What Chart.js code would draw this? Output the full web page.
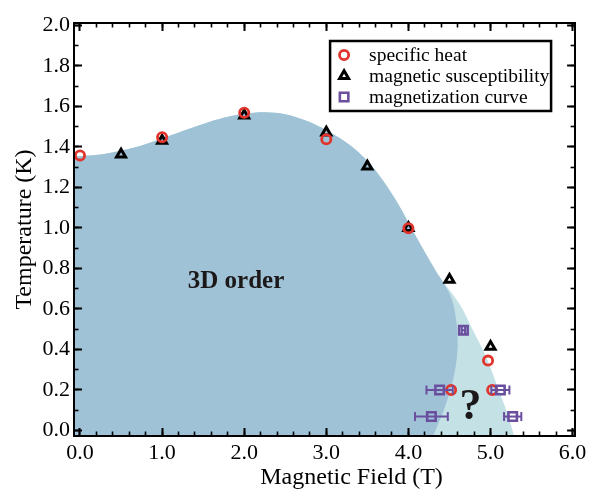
<!DOCTYPE html>
<html><head><meta charset="utf-8">
<script src="https://cdn.jsdelivr.net/npm/chart.js@4.4.1/dist/chart.umd.min.js"></script>
<style>html,body{margin:0;padding:0;background:#fff;overflow:hidden}canvas{display:block}</style>
</head><body>
<canvas id="c" width="601" height="491"></canvas>
<script>
// ---------- data ----------
const X_RANGE = [-0.073, 6.03];
const Y_RANGE = [-0.027, 2.011];
const xMajorStep = 1.0, xMinorStep = 0.2, yMajorStep = 0.2, yMinorStep = 0.1;

const seriesLabels = ['specific heat', 'magnetic susceptibility', 'magnetization curve'];

const heatField = [0.0, 1.0, 2.0, 3.0, 4.0, 4.52, 4.97, 5.02];
const heatTemp  = [1.357, 1.447, 1.568, 1.437, 0.998, 0.20, 0.345, 0.20];

const suscField = [0.5, 1.0, 2.0, 3.0, 3.5, 4.0, 4.5, 5.0];
const suscTemp  = [1.362, 1.430, 1.555, 1.471, 1.303, 1.00, 0.744, 0.414];

const magField = [4.67, 4.38, 5.12, 4.28, 5.27];
const magTemp  = [0.495, 0.20, 0.20, 0.069, 0.069];
const magErr   = [0.02, 0.16, 0.11, 0.20, 0.105];

// phase boundary (upper edge of the ordered phase)
const topEdgeField = [-0.1, 0.0, 0.25, 0.5, 0.75, 1.0, 1.25, 1.5, 1.75, 2.0, 2.25, 2.5, 2.75, 2.9, 3.05, 3.2, 3.35, 3.5, 3.65, 3.85, 4.1, 4.33];
const topEdgeTemp  = [1.352, 1.354, 1.362, 1.382, 1.407, 1.441, 1.478, 1.513, 1.543, 1.563, 1.571, 1.561, 1.53, 1.503, 1.47, 1.434, 1.388, 1.33, 1.256, 1.135, 0.952, 0.79];
// low-field side of the dark region near the critical field
const orderEdgeField = [4.44, 4.53, 4.58, 4.60, 4.59, 4.56, 4.51, 4.43, 4.33, 4.24, 4.8];
const orderEdgeTemp  = [0.72, 0.646, 0.55, 0.45, 0.36, 0.28, 0.20, 0.10, 0.0, -0.1, -0.1];
// outer edge of the light region
const outerEdgeField = [4.47, 4.63, 4.78, 4.95, 5.10, 5.20, 5.29, 5.34];
const outerEdgeTemp  = [0.71, 0.62, 0.50, 0.36, 0.20, 0.09, -0.03, -0.1];

const regionLabels = ['3D order', '?'];
const regionLabelField = [1.90, 4.757];
const regionLabelTemp  = [0.737, 0.111];

// ---------- styles ----------
const SERIF = '"Liberation Serif", "Times New Roman", serif';
const RED = '#e0342c', BLACK = '#000000', PURPLE = '#6a4f9f';
const DARK = 'rgb(159,194,214)', LIGHT = 'rgb(196,225,230)';

const pts = (xs, ys) => xs.map((x, i) => ({x, y: ys[i]}));

const markerSets = [
  {type: 'scatter', label: seriesLabels[2], inLegend: 2, data: pts(magField, magTemp), pointStyle: 'rect', pointRadius: 6, borderWidth: 2.6, borderColor: PURPLE, backgroundColor: 'rgba(0,0,0,0)', order: 0, clip: false},
  {type: 'scatter', label: seriesLabels[0], inLegend: 0, data: pts(heatField, heatTemp), pointStyle: 'circle', pointRadius: 4.6, borderWidth: 2.8, borderColor: RED, backgroundColor: 'rgba(0,0,0,0)', order: 1, clip: false},
  {type: 'scatter', label: seriesLabels[1], inLegend: 1, data: pts(suscField, suscTemp), pointStyle: 'triangle', pointRadius: 5.2, borderWidth: 3, borderColor: BLACK, backgroundColor: 'rgba(0,0,0,0)', order: 2, clip: false}
];
const errorSets = magField.map((x, i) => ({
  type: 'line', label: 'err' + i,
  data: [{x: x - magErr[i], y: magTemp[i]}, {x: x + magErr[i], y: magTemp[i]}],
  borderColor: PURPLE, borderWidth: 2, fill: false, tension: 0,
  pointStyle: 'line', pointRotation: 90, pointRadius: 4.5, pointBorderWidth: 2,
  pointBorderColor: PURPLE, pointBackgroundColor: PURPLE, order: 0, clip: false
}));
const regionSets = [
  {type: 'line', label: 'ordered', data: pts(topEdgeField.concat(orderEdgeField), topEdgeTemp.concat(orderEdgeTemp)),
   fill: 'start', backgroundColor: DARK, borderColor: 'rgba(0,0,0,0)', borderWidth: 0, pointRadius: 0, tension: 0.35, order: 3},
  {type: 'line', label: 'crossover', data: pts(topEdgeField.concat(outerEdgeField), topEdgeTemp.concat(outerEdgeTemp)),
   fill: 'start', backgroundColor: LIGHT, borderColor: 'rgba(0,0,0,0)', borderWidth: 0, pointRadius: 0, tension: 0.35, order: 4}
];

// ---------- plugins ----------
const regionText = {
  id: 'regionText',
  afterDatasetsDraw(chart) {
    const {ctx, scales: {x, y}} = chart;
    const sizes = [25, 44];
    ctx.save();
    ctx.fillStyle = '#1c1819';
    ctx.textAlign = 'center';
    ctx.textBaseline = 'middle';
    regionLabels.forEach((t, i) => {
      ctx.font = 'bold ' + sizes[i] + 'px ' + SERIF;
      ctx.fillText(t, x.getPixelForValue(regionLabelField[i]), y.getPixelForValue(regionLabelTemp[i]));
    });
    ctx.restore();
  }
};
const boxLegend = {
  id: 'boxLegend',
  afterDraw(chart) {
    const {ctx, chartArea} = chart;
    const w = 221, h = 70;
    const left = chartArea.right - 24 - w, top = chartArea.top + 18;
    ctx.save();
    ctx.fillStyle = '#fff';
    ctx.fillRect(left, top, w, h);
    ctx.lineWidth = 2.5;
    ctx.strokeStyle = '#000';
    ctx.strokeRect(left, top, w, h);
    const items = chart.data.datasets.filter(d => d.inLegend !== undefined).sort((a, b) => a.inLegend - b.inLegend);
    items.forEach((d, i) => {
      const cy = top + 14 + i * 21;
      ctx.fillStyle = '#fff';
      ctx.strokeStyle = d.borderColor;
      ctx.lineWidth = d.borderWidth;
      Chart.helpers.drawPoint(ctx, {pointStyle: d.pointStyle, radius: d.pointRadius, borderWidth: d.borderWidth, rotation: 0}, left + 14, cy);
      ctx.fillStyle = '#000';
      ctx.font = '19.5px ' + SERIF;
      ctx.textAlign = 'left';
      ctx.textBaseline = 'middle';
      ctx.fillText(d.label, left + 39, cy + 1);
    });
    ctx.restore();
  }
};

// ---------- axes ----------
function axis(pos, range, step, tickLen, opts) {
  const horizontal = pos === 'top' || pos === 'bottom';
  const size = opts.size;
  const a = {
    type: 'linear', position: pos, min: range[0], max: range[1], weight: opts.weight,
    afterFit: s => { if (horizontal) s.height = size; else s.width = size; },
    ticks: {display: !!opts.labels, stepSize: step, includeBounds: false, autoSkip: false, maxRotation: 0,
            padding: opts.padding || 0, color: '#000', font: {family: SERIF, size: 22, lineHeight: 1},
            callback: v => v.toFixed(1)},
    grid: {display: true, drawOnChartArea: false, drawTicks: true, tickLength: tickLen,
           tickWidth: opts.minor ? 1.6 : 2, tickColor: '#000', z: 1},
    border: {display: !opts.minor, color: '#000', width: 2, z: 1},
    title: {display: false}
  };
  if (opts.title) a.title = opts.title;
  return a;
}

const scales = {
  x:   axis('bottom', X_RANGE, xMajorStep, -8, {size: 55, weight: 1, labels: true, padding: 14.5,
          title: {display: true, text: '\u2003\u2003 Magnetic Field (T)', color: '#000', font: {family: SERIF, size: 24, lineHeight: 1}, padding: {top: 0, bottom: 1}}}),
  xm:  axis('bottom', X_RANGE, xMinorStep, -4.5, {size: 0, weight: 0, minor: true}),
  x2:  axis('top', X_RANGE, xMajorStep, -8, {size: 14, weight: 1}),
  x2m: axis('top', X_RANGE, xMinorStep, -4.5, {size: 0, weight: 0, minor: true}),
  y:   axis('left', Y_RANGE, yMajorStep, -8, {size: 74, weight: 1, labels: true, padding: 12,
          title: {display: true, text: 'Temperature (K)', color: '#000', font: {family: SERIF, size: 24, lineHeight: 1}, padding: {top: 13, bottom: 0}}}),
  ym:  axis('left', Y_RANGE, yMinorStep, -4.5, {size: 0, weight: 0, minor: true}),
  y2:  axis('right', Y_RANGE, yMajorStep, -8, {size: 24, weight: 1}),
  y2m: axis('right', Y_RANGE, yMinorStep, -4.5, {size: 0, weight: 0, minor: true})
};

new Chart(document.getElementById('c'), {
  type: 'scatter',
  data: {datasets: markerSets.concat(errorSets, regionSets)},
  options: {
    responsive: false, animation: false, events: [],
    layout: {padding: 0},
    scales,
    plugins: {legend: {display: false}, tooltip: {enabled: false}}
  },
  plugins: [regionText, boxLegend]
});
</script>
</body></html>
